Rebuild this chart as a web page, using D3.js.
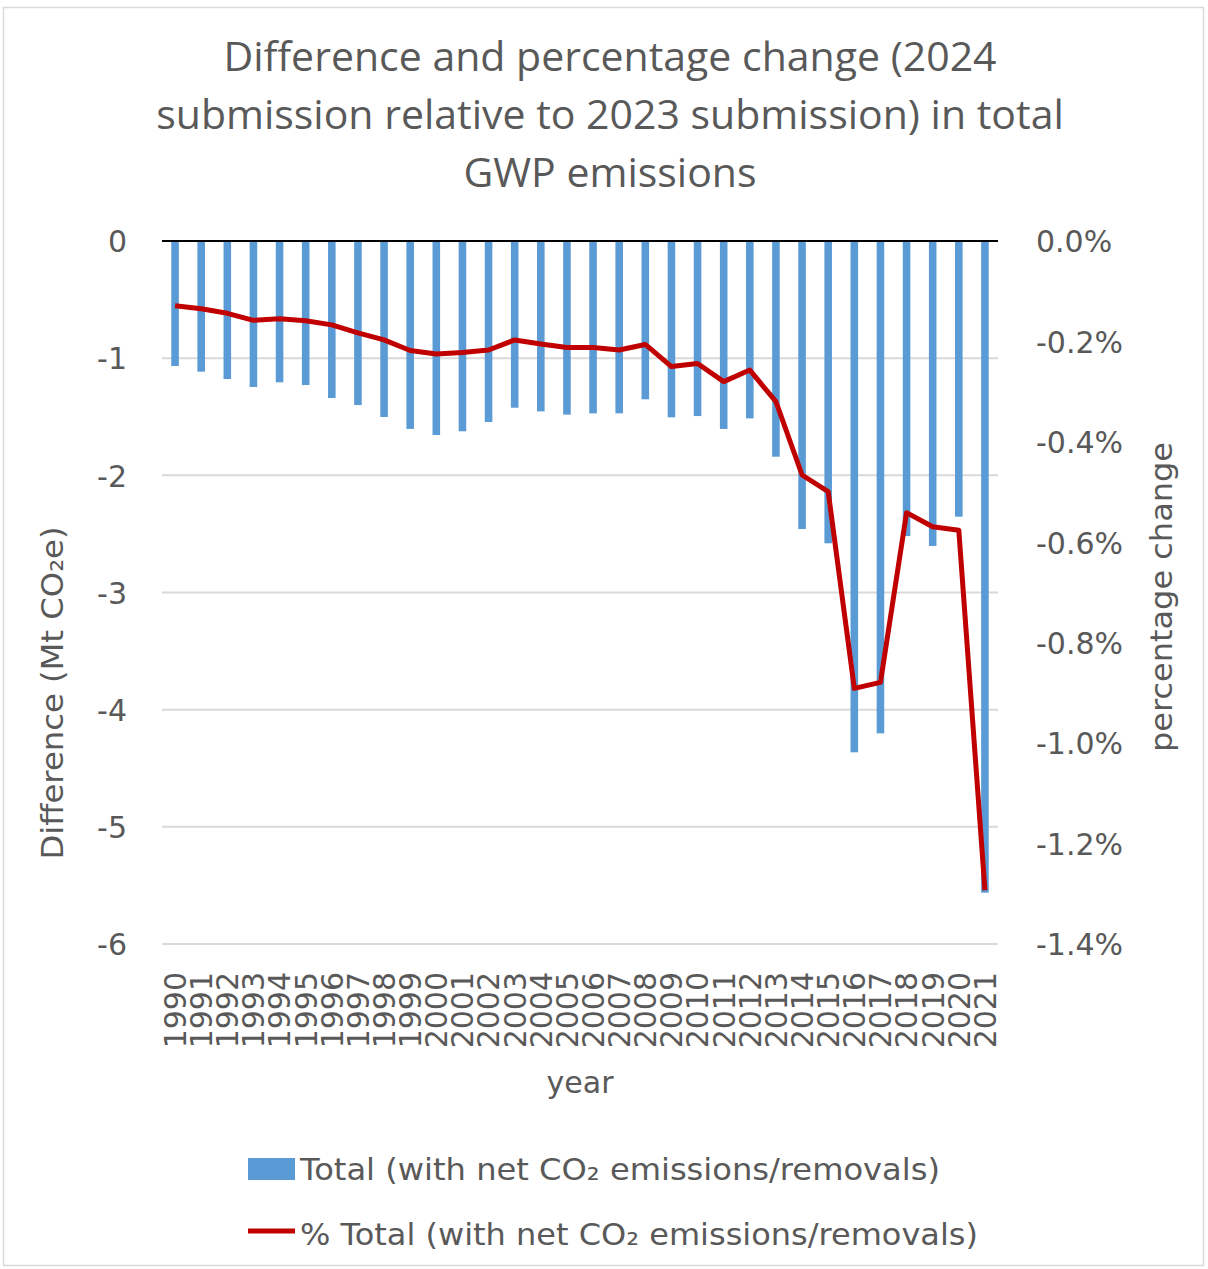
<!DOCTYPE html>
<html>
<head>
<meta charset="utf-8">
<script src="https://cdn.jsdelivr.net/npm/d3@7"></script>
<style>
  html, body { margin: 0; padding: 0; background: #fff; }
  svg { display: block; }
</style>
</head>
<body>
<svg id="chart" width="1208" height="1269"></svg>
<script>
const years = [1990,1991,1992,1993,1994,1995,1996,1997,1998,1999,2000,2001,2002,2003,2004,2005,2006,2007,2008,2009,2010,2011,2012,2013,2014,2015,2016,2017,2018,2019,2020,2021];
const differenceMt = [-1.067,-1.115,-1.178,-1.246,-1.206,-1.229,-1.340,-1.400,-1.502,-1.604,-1.656,-1.624,-1.545,-1.423,-1.454,-1.482,-1.471,-1.471,-1.351,-1.505,-1.494,-1.604,-1.514,-1.841,-2.458,-2.580,-4.364,-4.202,-2.518,-2.603,-2.353,-5.562];
const percentChange = [-0.129,-0.135,-0.144,-0.158,-0.155,-0.159,-0.167,-0.183,-0.197,-0.218,-0.225,-0.222,-0.217,-0.197,-0.205,-0.212,-0.212,-0.217,-0.206,-0.250,-0.244,-0.280,-0.257,-0.320,-0.466,-0.499,-0.891,-0.879,-0.541,-0.569,-0.576,-1.293];
const leftTicks = [0,-1,-2,-3,-4,-5,-6];
const rightTicks = [0,-0.2,-0.4,-0.6,-0.8,-1.0,-1.2,-1.4];
const titleLines = ["Difference and percentage change (2024", "submission relative to 2023 submission) in total", "GWP emissions"];
const leftTitle = "Difference (Mt CO\u2082e)";
const rightTitle = "percentage change";
const xTitle = "year";
const legendBar = "Total (with net CO\u2082 emissions/removals)";
const legendLine = "% Total (with net CO\u2082 emissions/removals)";

const svg = d3.select("#chart");
const plot = {left: 162, right: 998, top: 241, bottom: 944};
const textColor = "#595959";
const tickFont = "'DejaVu Sans', sans-serif";
const hyphen = s => s.replace("\u2212", "-");

// border
svg.append("rect").attr("x", 3.5).attr("y", 7.5).attr("width", 1200).attr("height", 1258)
  .attr("fill", "#fff").attr("stroke", "#d9d9d9").attr("stroke-width", 1.5);

// title
svg.append("g").selectAll("text").data(titleLines).join("text")
  .attr("x", 610).attr("y", (d, i) => 71 + i * 58)
  .attr("text-anchor", "middle")
  .attr("font-family", "'Open Sans', sans-serif").attr("font-size", 41)
  .attr("fill", textColor).text(d => d);

const x = d3.scaleBand().domain(years).range([plot.left, plot.right]).padding(0);
const yL = d3.scaleLinear().domain([-6, 0]).range([plot.bottom, plot.top]);
const yR = d3.scaleLinear().domain([-1.4, 0]).range([plot.bottom, plot.top]);

// gridlines
svg.append("g").selectAll("line").data(leftTicks.filter(t => t !== 0)).join("line")
  .attr("x1", plot.left).attr("x2", plot.right)
  .attr("y1", d => yL(d)).attr("y2", d => yL(d))
  .attr("stroke", "#d9d9d9").attr("stroke-width", 2);

// bars
const bw = x.bandwidth() * 0.29;
svg.append("g").selectAll("rect").data(years).join("rect")
  .attr("x", d => x(d) + x.bandwidth() / 2 - bw / 2)
  .attr("width", bw)
  .attr("y", yL(0))
  .attr("height", (d, i) => yL(differenceMt[i]) - yL(0))
  .attr("fill", "#5b9bd5");

// zero line
svg.append("line").attr("x1", plot.left).attr("x2", plot.right)
  .attr("y1", yL(0)).attr("y2", yL(0)).attr("stroke", "#000").attr("stroke-width", 2.2);

// percent line
const line = d3.line().x((d, i) => x(years[i]) + x.bandwidth() / 2).y(d => yR(d));
svg.append("path").datum(percentChange).attr("d", line)
  .attr("fill", "none").attr("stroke", "#c00000").attr("stroke-width", 5)
  .attr("stroke-linejoin", "round").attr("stroke-linecap", "butt");

// left axis
const leftAxis = d3.axisLeft(yL).tickValues(leftTicks).tickSize(0).tickPadding(0)
  .tickFormat(d => hyphen(d3.format("d")(d)));
const gL = svg.append("g").attr("transform", `translate(127,0)`).call(leftAxis);
gL.select(".domain").remove();
gL.selectAll("text").attr("font-family", tickFont).attr("font-size", 30).attr("fill", textColor).attr("dy", "0.36em");

// right axis
const rightAxis = d3.axisRight(yR).tickValues(rightTicks).tickSize(0).tickPadding(0)
  .tickFormat(d => hyphen(d3.format(".1f")(d)) + "%");
const gR = svg.append("g").attr("transform", `translate(1036,0)`).call(rightAxis);
gR.select(".domain").remove();
gR.selectAll("text").attr("font-family", tickFont).attr("font-size", 30).attr("fill", textColor).attr("dy", "0.36em");

// x axis labels
const xAxis = d3.axisBottom(x).tickSize(0).tickPadding(0);
const gX = svg.append("g").attr("transform", `translate(0,972)`).call(xAxis);
gX.select(".domain").remove();
gX.selectAll("text")
  .attr("font-family", tickFont).attr("font-size", 30).attr("fill", textColor)
  .attr("text-anchor", "end").attr("transform", "rotate(-90)")
  .attr("x", 0).attr("y", 0).attr("dy", "0.36em");

// axis titles
svg.append("text").attr("transform", "translate(63,693) rotate(-90)")
  .attr("text-anchor", "middle").attr("font-family", tickFont).attr("font-size", 30)
  .attr("textLength", 333).attr("lengthAdjust", "spacingAndGlyphs")
  .attr("fill", textColor).text(leftTitle);
svg.append("text").attr("transform", "translate(1172,597) rotate(-90)")
  .attr("text-anchor", "middle").attr("font-family", tickFont).attr("font-size", 31)
  .attr("textLength", 310).attr("lengthAdjust", "spacingAndGlyphs")
  .attr("fill", textColor).text(rightTitle);
svg.append("text").attr("x", 580).attr("y", 1093)
  .attr("text-anchor", "middle").attr("font-family", tickFont).attr("font-size", 30)
  .attr("fill", textColor).text(xTitle);

// legend
const lg = svg.append("g");
lg.append("rect").attr("x", 248).attr("y", 1158).attr("width", 47).attr("height", 22).attr("fill", "#5b9bd5");
lg.append("text").attr("x", 300).attr("y", 1180).attr("font-family", tickFont).attr("font-size", 30)
  .attr("textLength", 640).attr("lengthAdjust", "spacingAndGlyphs")
  .attr("fill", textColor).text(legendBar);
lg.append("line").attr("x1", 248).attr("x2", 295).attr("y1", 1231).attr("y2", 1231)
  .attr("stroke", "#c00000").attr("stroke-width", 5);
lg.append("text").attr("x", 300).attr("y", 1245).attr("font-family", tickFont).attr("font-size", 30)
  .attr("textLength", 678).attr("lengthAdjust", "spacingAndGlyphs")
  .attr("fill", textColor).text(legendLine);
</script>
</body>
</html>
